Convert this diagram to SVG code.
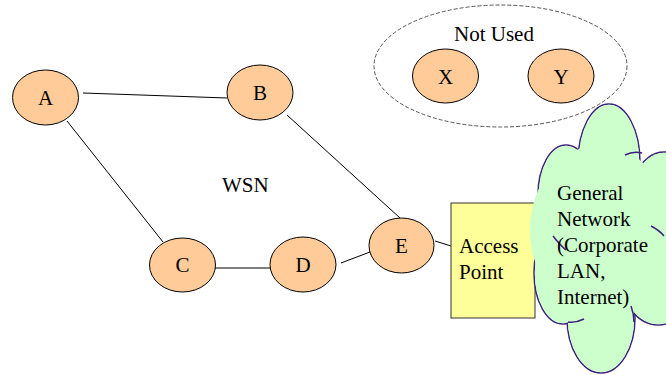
<svg xmlns="http://www.w3.org/2000/svg" width="666" height="375" viewBox="0 0 666 375">
<style>
.node{fill:#FFCC99;stroke:#000;stroke-width:1}
.lbl{font-size:21px;fill:#000}
.c{text-anchor:middle}
.edge{stroke:#000;stroke-width:1;fill:none}
.cs{fill:#CCFFCC;stroke:#3F1F7F;stroke-width:1.5}
.cf{fill:#CCFFCC;stroke:none}
</style>
<rect width="666" height="375" fill="#fff"/>
<g font-family="'Liberation Serif', 'DejaVu Serif', serif">
<g id="notused">
<ellipse cx="500.5" cy="66" rx="126.5" ry="61" fill="none" stroke="#555" stroke-width="1" stroke-dasharray="4,2"/>
<text class="lbl c" x="494" y="41">Not Used</text>
</g>
<g id="X"><ellipse class="node" cx="445.5" cy="76" rx="33" ry="27"/><text class="lbl c" x="445.5" y="84">X</text></g>
<g id="Y"><ellipse class="node" cx="561" cy="76" rx="33" ry="27"/><text class="lbl c" x="561" y="84">Y</text></g>
<g id="connectors">
<line class="edge" x1="83" y1="93" x2="227" y2="98"/>
<line class="edge" x1="67" y1="121" x2="163" y2="242"/>
<line class="edge" x1="287" y1="115" x2="400" y2="218"/>
<line class="edge" x1="215" y1="268" x2="270" y2="268"/>
<line class="edge" x1="341" y1="263" x2="370" y2="252"/>
<line class="edge" x1="435" y1="241" x2="451" y2="246"/>
</g>
<g id="A"><ellipse class="node" cx="45.5" cy="97.5" rx="33" ry="27.5"/><text class="lbl c" x="45.5" y="105">A</text></g>
<g id="B"><ellipse class="node" cx="260" cy="92.5" rx="33" ry="27.5"/><text class="lbl c" x="260" y="100">B</text></g>
<g id="C"><ellipse class="node" cx="182.5" cy="265" rx="33" ry="27"/><text class="lbl c" x="182.5" y="272">C</text></g>
<g id="D"><ellipse class="node" cx="303" cy="264.5" rx="33" ry="27.5"/><text class="lbl c" x="303" y="272">D</text></g>
<g id="E"><ellipse class="node" cx="401.5" cy="245.5" rx="32.5" ry="27.5"/><text class="lbl c" x="401.5" y="253">E</text></g>
<g id="wsn"><text class="lbl" x="222" y="192">WSN</text></g>
<g id="accesspoint">
<rect x="451" y="203" width="84" height="115" fill="#FFFF99" stroke="#333" stroke-width="1"/>
<text class="lbl" x="459" y="253">Access</text>
<text class="lbl" x="459" y="279">Point</text>
</g>
<g id="cloud">
<ellipse class="cs" cx="609" cy="162" rx="31" ry="58"/>
<ellipse class="cs" cx="664" cy="232" rx="42" ry="80"/>
<ellipse class="cs" cx="566" cy="195" rx="28" ry="50"/>
<ellipse class="cs" cx="563" cy="273" rx="29" ry="51"/>
<ellipse class="cs" cx="601" cy="318" rx="34" ry="55"/>
<ellipse class="cs" cx="658" cy="272" rx="38" ry="53"/>
<ellipse class="cf" cx="609" cy="162" rx="30.2" ry="57.2"/>
<ellipse class="cf" cx="664" cy="232" rx="41.2" ry="79.2"/>
<ellipse class="cf" cx="566" cy="195" rx="27.2" ry="49.2"/>
<ellipse class="cf" cx="563" cy="273" rx="28.2" ry="50.2"/>
<ellipse class="cf" cx="601" cy="318" rx="33.2" ry="54.2"/>
<ellipse class="cf" cx="658" cy="272" rx="37.2" ry="52.2"/>
<ellipse cx="600" cy="230" rx="70" ry="85" class="cf"/>
<path d="M625 155 Q633 151 642 153" fill="none" stroke="#3F1F7F" stroke-width="1.5"/>
<path d="M553 236 Q560 245 566 250" fill="none" stroke="#3F1F7F" stroke-width="1.5"/>
<path d="M651 226 Q659 230 664 236" fill="none" stroke="#3F1F7F" stroke-width="1.5"/>
<path d="M584 319 Q576 323 568 322" fill="none" stroke="#3F1F7F" stroke-width="1.5"/>
<path d="M631 306 Q634 314 634 322" fill="none" stroke="#3F1F7F" stroke-width="1.5"/>
<text class="lbl" x="557" y="200">General</text>
<text class="lbl" x="557" y="226">Network</text>
<text class="lbl" x="557" y="252">(Corporate</text>
<text class="lbl" x="557" y="278">LAN,</text>
<text class="lbl" x="557" y="304">Internet)</text>
</g>
</g>
</svg>
